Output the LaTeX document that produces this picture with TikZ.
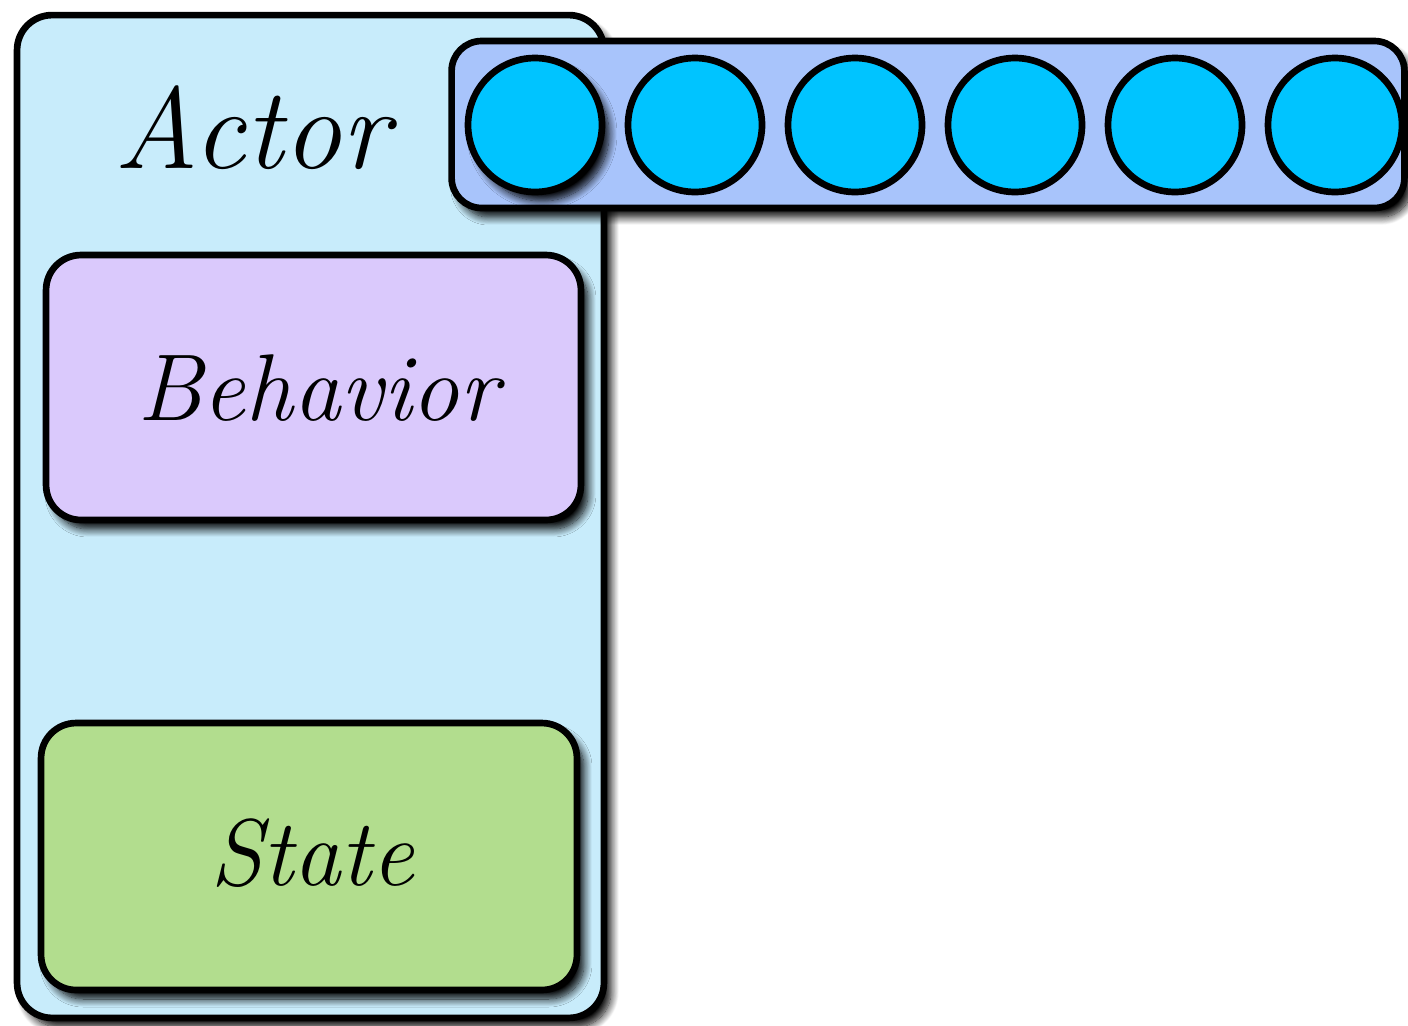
\documentclass[tikz,border=0pt]{standalone}
\usepackage{fontspec}
\usetikzlibrary{shadows.blur}
\definecolor{actorfill}{HTML}{C8ECFB}
\definecolor{queuefill}{HTML}{A8C4FB}
\definecolor{msgfill}{HTML}{00C4FF}
\definecolor{behfill}{HTML}{DAC9FC}
\definecolor{statefill}{HTML}{B2DD8E}
\begin{document}
\begin{tikzpicture}[x=0.02cm,y=-0.02cm,
  shade box/.style={blur shadow={shadow xshift=0.14cm, shadow yshift=-0.18cm,
      shadow blur radius=0.16cm, shadow blur steps=12, shadow opacity=100}},
  box/.style={draw=black, line width=3.8pt, rounded corners=0.7cm, shade box,
      inner sep=0pt},
  msg/.style={circle, draw=black, line width=3.8pt, fill=msgfill,
      minimum size=2.68cm, inner sep=0pt},
  lbl/.style={font=\fontsize{54}{60}\selectfont\itshape}]
\useasboundingbox (0,0) rectangle (1408,1025);

% actor container
\node[box, fill=actorfill, minimum width=11.74cm, minimum height=20.06cm]
  (actor) at (310.5,516.5) {};
\node[lbl, font=\fontsize{66}{70}\selectfont\itshape] (title) at (252,128) {Actor};

% behaviour and state
\node[box, fill=behfill, minimum width=10.7cm, minimum height=5.3cm]
  (behavior) at (313.5,387.5) {};
\node[lbl] (behlbl) at (318,388) {Behavior};
\node[box, fill=statefill, minimum width=10.72cm, minimum height=5.34cm]
  (state) at (309,856.5) {};
\node[lbl] (statelbl) at (312,853) {State};

% mailbox
\node[box, fill=queuefill, rounded corners=0.6cm, minimum width=19.06cm,
      minimum height=3.34cm] (mailbox) at (928,124.5) {};
\node[msg, shade box] (m1) at (535,125) {};
\foreach \i/\x in {2/695,3/855,4/1015,5/1175,6/1335}{
  \node[msg] (m\i) at (\x,125) {};
}
\end{tikzpicture}
\end{document}
